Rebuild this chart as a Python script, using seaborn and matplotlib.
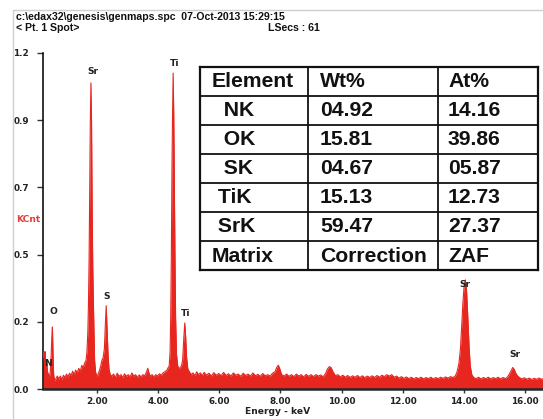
import numpy as np
import matplotlib
matplotlib.use("Agg")
import matplotlib.pyplot as plt
import seaborn as sns
from matplotlib.lines import Line2D

# EDS spectrum, energy (keV) vs counts (KCnt)
energy_kev = [
    0.23, 0.26, 0.28, 0.30, 0.32, 0.35, 0.38, 0.41, 0.44, 0.47, 0.50, 0.52, 0.54, 0.56, 0.58, 0.61,
    0.65, 0.70, 0.75, 0.80, 0.85, 0.90, 0.95, 1.00, 1.05, 1.10, 1.15, 1.20, 1.25, 1.30, 1.35, 1.40,
    1.45, 1.50, 1.55, 1.60, 1.64, 1.67, 1.70, 1.72, 1.74, 1.76, 1.78, 1.80, 1.82, 1.84, 1.86, 1.88,
    1.90, 1.92, 1.95, 1.99, 2.03, 2.08, 2.12, 2.16, 2.20, 2.24, 2.27, 2.30, 2.33, 2.36, 2.39, 2.43,
    2.48, 2.54, 2.60, 2.66, 2.72, 2.78, 2.84, 2.90, 2.96, 3.02, 3.08, 3.14, 3.20, 3.26, 3.32, 3.38,
    3.44, 3.50, 3.56, 3.62, 3.66, 3.70, 3.74, 3.80, 3.86, 3.92, 3.98, 4.04, 4.10, 4.16, 4.22, 4.28,
    4.33, 4.36, 4.39, 4.41, 4.43, 4.45, 4.47, 4.49, 4.51, 4.53, 4.55, 4.57, 4.60, 4.64, 4.68, 4.72,
    4.76, 4.80, 4.84, 4.87, 4.90, 4.93, 4.97, 5.02,
    5.08, 5.14, 5.20, 5.26, 5.32, 5.38, 5.44, 5.50, 5.58, 5.66, 5.74, 5.82, 5.90, 5.98, 6.06,
    6.14, 6.22, 6.30, 6.38, 6.46, 6.54, 6.62, 6.70, 6.78, 6.86, 6.94, 7.02, 7.10, 7.18, 7.26, 7.34,
    7.42, 7.50, 7.58, 7.66, 7.74, 7.82, 7.88, 7.93, 7.98, 8.04, 8.12, 8.20, 8.28, 8.36, 8.44, 8.52,
    8.60, 8.68, 8.76, 8.84, 8.92, 9.00, 9.08, 9.16, 9.24, 9.32, 9.40, 9.48, 9.54, 9.60, 9.66, 9.72,
    9.80, 9.88, 9.96, 10.04, 10.12, 10.20, 10.28, 10.36, 10.44, 10.52, 10.60, 10.68, 10.76, 10.84,
    10.92, 11.00, 11.08, 11.16, 11.24, 11.32, 11.40, 11.48, 11.56, 11.64, 11.72, 11.80, 11.88, 11.96,
    12.04, 12.12, 12.20, 12.28, 12.36, 12.44, 12.52, 12.60, 12.68, 12.76, 12.84, 12.92, 13.00, 13.08,
    13.16, 13.24, 13.32, 13.40, 13.48, 13.56, 13.64, 13.72, 13.78, 13.84, 13.89, 13.93, 13.97, 14.01,
    14.05, 14.09, 14.13, 14.17, 14.21, 14.26, 14.32, 14.40, 14.48, 14.56, 14.64, 14.72, 14.80, 14.88,
    14.96, 15.04, 15.12, 15.20, 15.28, 15.36, 15.43, 15.49, 15.55, 15.60, 15.65, 15.70, 15.76, 15.82,
    15.90, 15.98, 16.06, 16.14, 16.22, 16.30, 16.38, 16.46, 16.54, 16.60,
]
counts_kcnt = [
    0.11, 0.13, 0.09, 0.13, 0.07, 0.10, 0.06, 0.05, 0.04, 0.06, 0.12, 0.18, 0.216, 0.12, 0.05, 0.03,
    0.035, 0.045, 0.035, 0.045, 0.032, 0.048, 0.04, 0.052, 0.042, 0.055, 0.046, 0.062, 0.05, 0.066, 0.056, 0.072,
    0.062, 0.082, 0.076, 0.092, 0.10, 0.13, 0.20, 0.30, 0.45, 0.68, 0.93, 1.066, 0.93, 0.62, 0.42, 0.30,
    0.20, 0.10, 0.06, 0.045, 0.05, 0.065, 0.08, 0.10, 0.11, 0.14, 0.22, 0.29, 0.20, 0.12, 0.07, 0.05,
    0.045, 0.052, 0.04, 0.055, 0.044, 0.05, 0.04, 0.053, 0.044, 0.05, 0.042, 0.056, 0.045, 0.05, 0.04, 0.049,
    0.042, 0.05, 0.046, 0.06, 0.072, 0.055, 0.045, 0.05, 0.042, 0.05, 0.045, 0.053, 0.048, 0.056, 0.06, 0.065,
    0.075, 0.08, 0.13, 0.25, 0.45, 0.75, 0.95, 1.10, 0.95, 0.70, 0.45, 0.25, 0.12, 0.08, 0.07, 0.075,
    0.08, 0.10, 0.18, 0.23, 0.18, 0.11, 0.07, 0.06,
    0.05, 0.056, 0.046, 0.06, 0.05, 0.056, 0.046, 0.058, 0.048, 0.055, 0.045, 0.057, 0.048, 0.054, 0.046,
    0.058, 0.047, 0.053, 0.045, 0.056, 0.048, 0.052, 0.044, 0.055, 0.047, 0.052, 0.045, 0.056, 0.046, 0.051, 0.044,
    0.054, 0.046, 0.05, 0.045, 0.055, 0.06, 0.075, 0.083, 0.07, 0.05, 0.045, 0.052, 0.044, 0.05, 0.043, 0.052,
    0.045, 0.05, 0.042, 0.051, 0.044, 0.05, 0.043, 0.05, 0.045, 0.049, 0.042, 0.055, 0.07, 0.078, 0.074, 0.06,
    0.046, 0.05, 0.042, 0.048, 0.041, 0.047, 0.04, 0.046, 0.041, 0.047, 0.04, 0.046, 0.039, 0.045,
    0.04, 0.046, 0.04, 0.047, 0.041, 0.048, 0.043, 0.05, 0.045, 0.05, 0.041, 0.045, 0.038, 0.043,
    0.037, 0.042, 0.036, 0.041, 0.035, 0.04, 0.036, 0.041, 0.035, 0.04, 0.036, 0.041, 0.035, 0.04,
    0.036, 0.041, 0.037, 0.042, 0.038, 0.043, 0.04, 0.045, 0.06, 0.09, 0.14, 0.22, 0.30, 0.36,
    0.38, 0.34, 0.25, 0.15, 0.08, 0.05, 0.04, 0.036, 0.041, 0.035, 0.04, 0.036, 0.041, 0.035,
    0.04, 0.036, 0.041, 0.035, 0.04, 0.036, 0.042, 0.052, 0.065, 0.075, 0.068, 0.055, 0.045, 0.04,
    0.035, 0.039, 0.034, 0.038, 0.033, 0.037, 0.034, 0.038, 0.034, 0.036,
]

# Peak identification labels
peak_names = ["N", "O", "Sr", "S", "Ti", "Ti", "Sr", "Sr"]
peak_energies = [0.30, 0.54, 1.80, 2.30, 4.49, 4.87, 14.05, 15.60]

# Axis ticks
x_ticks = [2.0, 4.0, 6.0, 8.0, 10.0, 12.0, 14.0, 16.0]
y_ticks = [0.0, 0.234, 0.468, 0.702, 0.936, 1.17]

# Quantification table
table_header = ["Element", "Wt%", "At%"]
elements = ["  NK", "  OK", "  SK", " TiK", " SrK"]
wt_pct = ["04.92", "15.81", "04.67", "15.13", "59.47"]
at_pct = ["14.16", "39.86", "05.87", "12.73", "27.37"]
matrix_row = ["Matrix", "Correction", "ZAF"]

sns.set_style("white")
plt.rcParams["font.family"] = ["DejaVu Sans"]

W, H = 543, 419
fig = plt.figure(figsize=(W / 100, H / 100), dpi=100)
fig.patch.set_facecolor("white")

# light frame around the report area
fig.add_artist(Line2D([13 / W, 13 / W], [0, 1 - 10 / H], color="#cfcfcf", lw=1.0))
fig.add_artist(Line2D([13 / W, 1], [1 - 10 / H, 1 - 10 / H], color="#cfcfcf", lw=1.0))

hdr = dict(fontsize=7.6, fontweight="bold", family="Liberation Sans", color="#111111", va="center")
fig.text(16 / W, 1 - 17 / H, "c:\\edax32\\genesis\\genmaps.spc  07-Oct-2013 15:29:15", **hdr)
fig.text(16 / W, 1 - 28 / H, "< Pt. 1 Spot>", **hdr)
fig.text(268 / W, 1 - 28 / H, "LSecs : 61", **hdr)

ax = fig.add_axes([43 / W, 30 / H, 500 / W, 336 / H])
red = "#e6261f"
ax.fill_between(energy_kev, 0, counts_kcnt, color=red, lw=0, zorder=2)
sns.lineplot(x=energy_kev, y=counts_kcnt, ax=ax, color=red, lw=0.8, sort=False, zorder=3)

ax.set_xlim(0.232, 16.59)
ax.set_ylim(0, 1.17)
ax.set_xticks(x_ticks)
ax.set_xticklabels([f"{v:.2f}" for v in x_ticks])
ax.set_yticks(y_ticks)
ax.set_yticklabels([f"{v:.1f}" for v in y_ticks])
for s in ["top", "right"]:
    ax.spines[s].set_visible(False)
ax.spines["left"].set_color("#111111")
ax.spines["left"].set_linewidth(1.2)
ax.spines["bottom"].set_color("#1e2630")
ax.spines["bottom"].set_linewidth(1.8)
ax.tick_params(axis="y", left=True, length=4, width=1, pad=6, labelsize=6.4, color="#333333")
ax.tick_params(axis="x", bottom=True, length=3, width=1, pad=3, labelsize=6.4, color="#333333")
for lab in ax.get_xticklabels() + ax.get_yticklabels():
    lab.set_fontweight("bold")
    lab.set_color("#222222")
ax.set_xlabel("Energy - keV", fontsize=6.6, fontweight="bold", color="#222222")
ax.xaxis.set_label_coords(0.47, -0.055)
ax.set_ylabel("")
ax.text(-0.03, 0.505, "KCnt", transform=ax.transAxes, color="#e2403a", fontsize=6.6,
        fontweight="bold", ha="center", va="center")

# peak labels, offset in pixels from each peak's top
e_arr = np.array(energy_kev)
c_arr = np.array(counts_kcnt)
offsets = [(3, -12), (1, 15), (2, 11), (0, 9), (1, 10), (1, 9), (0, -5), (2, 13)]
for name, e, off in zip(peak_names, peak_energies, offsets):
    m = np.abs(e_arr - e) <= 0.05
    top = c_arr[m].max()
    ax.annotate(name, (e, top), xytext=off, textcoords="offset pixels", ha="center", va="center",
                fontsize=6.6, fontweight="bold", color="#222222", zorder=5)

# quantification table
tx0, ty0, tw, th = 200, 67, 338, 203
tax = fig.add_axes([tx0 / W, 1 - (ty0 + th) / H, tw / W, th / H])
tax.set_xlim(0, tw)
tax.set_ylim(th, 0)
tax.set_facecolor("white")
tax.set_xticks([])
tax.set_yticks([])
for s in tax.spines.values():
    s.set_color("#111111")
    s.set_linewidth(1.6)
rows = [table_header] + [list(r) for r in zip(elements, wt_pct, at_pct)] + [matrix_row]
row_h = th / len(rows)
col_x = [0, 108, 238]
col_pad = [12, 12, 10]
for i in range(1, len(rows)):
    tax.axhline(i * row_h, color="#111111", lw=1.3)
for cx in col_x[1:]:
    tax.axvline(cx, color="#111111", lw=1.3)
for i, r in enumerate(rows):
    for j, txt in enumerate(r):
        tax.text(col_x[j] + col_pad[j], (i + 0.5) * row_h + 0.5, txt, fontsize=15.2,
                 family="Liberation Sans", fontweight="bold", color="#111111",
                 ha="left", va="center")

fig.savefig("out.png", dpi=100, facecolor="white")
